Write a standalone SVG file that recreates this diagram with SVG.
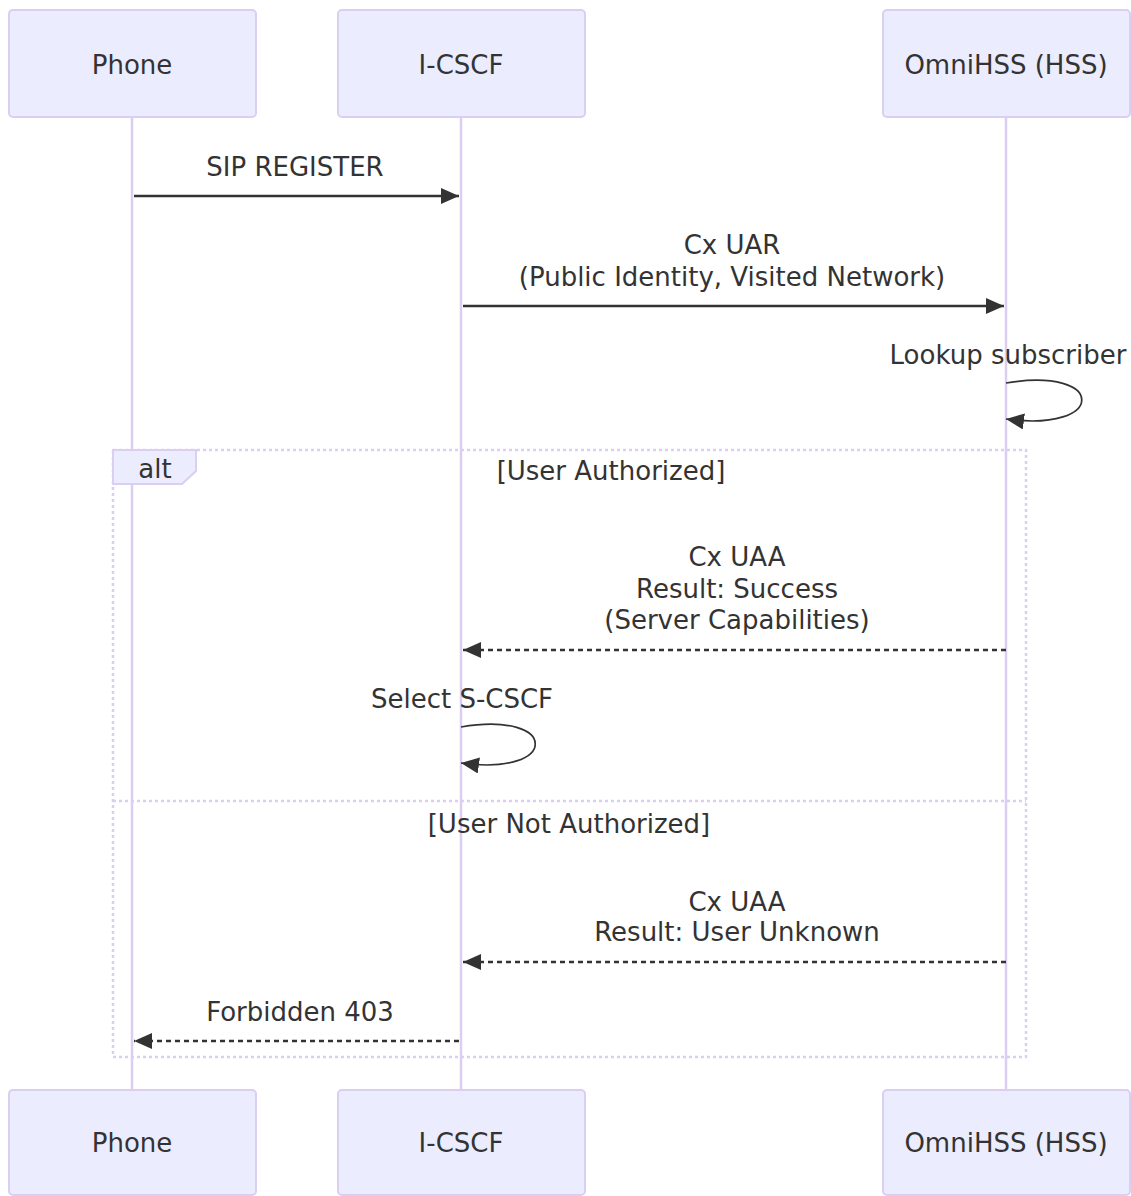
<svg xmlns="http://www.w3.org/2000/svg" width="1131" height="1196" viewBox="0 0 1131 1196">
<style>
.actor{fill:#ECECFF;stroke:#dacef3;stroke-width:2}
.at{font-family:"DejaVu Sans",sans-serif;font-size:26px;fill:#333;text-anchor:middle;dominant-baseline:central}
.life{stroke:#dacef3;stroke-width:2.5}
.msg{stroke:#333;stroke-width:2.6;fill:none}
.self{stroke:#333;stroke-width:1.7;fill:none}
.dash{stroke-dasharray:5,4}
.loop{stroke:#dacef3;stroke-width:2.5;stroke-dasharray:3,3;fill:none}
.lt{font-family:"DejaVu Sans",sans-serif;font-size:26px;fill:#333;text-anchor:middle;dominant-baseline:central}
</style>
<defs>
<marker id="ah" markerUnits="userSpaceOnUse" markerWidth="20" markerHeight="20" refX="18" refY="8" orient="auto">
<path d="M0,0 L18,8 L0,16 z" fill="#333"/>
</marker>
</defs>
<g id="lifelines">
<line class="life" x1="132" y1="117" x2="132" y2="1090"/>
<line class="life" x1="461" y1="117" x2="461" y2="1090"/>
<line class="life" x1="1006" y1="117" x2="1006" y2="1090"/>
</g>
<g id="phone-top"><rect class="actor" x="9" y="10" width="247" height="107" rx="4"/><text class="at" x="132" y="65">Phone</text></g>
<g id="icscf-top"><rect class="actor" x="338" y="10" width="247" height="107" rx="4"/><text class="at" x="461" y="65">I-CSCF</text></g>
<g id="hss-top"><rect class="actor" x="883" y="10" width="247" height="107" rx="4"/><text class="at" x="1006" y="65">OmniHSS (HSS)</text></g>
<g id="phone-bottom"><rect class="actor" x="9" y="1090" width="247" height="105" rx="4"/><text class="at" x="132" y="1143">Phone</text></g>
<g id="icscf-bottom"><rect class="actor" x="338" y="1090" width="247" height="105" rx="4"/><text class="at" x="461" y="1143">I-CSCF</text></g>
<g id="hss-bottom"><rect class="actor" x="883" y="1090" width="247" height="105" rx="4"/><text class="at" x="1006" y="1143">OmniHSS (HSS)</text></g>
<g id="alt-frame">
<rect class="loop" x="113" y="450" width="913" height="607"/>
<line class="loop" x1="113" y1="801" x2="1026" y2="801"/>
<polygon points="113,450 196,450 196,471 182,484 113,484" fill="#ECECFF" stroke="#dacef3" stroke-width="2"/>
<text class="lt" x="155" y="469">alt</text>
<text class="lt" x="611" y="471">[User Authorized]</text>
<text class="lt" x="569" y="824">[User Not Authorized]</text>
</g>
<g id="connectors">
<line class="msg" x1="134" y1="196" x2="459" y2="196" marker-end="url(#ah)"/>
<text class="lt" x="295" y="167">SIP REGISTER</text>
<line class="msg" x1="463" y1="306" x2="1004" y2="306" marker-end="url(#ah)"/>
<text class="lt" x="732" y="245">Cx UAR</text>
<text class="lt" x="732" y="277">(Public Identity, Visited Network)</text>
<path class="self" d="M1006,383 C1107,366 1107,433 1006,419" marker-end="url(#ah)"/>
<text class="lt" x="1008" y="355">Lookup subscriber</text>
<line class="msg dash" x1="1006" y1="650" x2="463" y2="650" marker-end="url(#ah)"/>
<text class="lt" x="737" y="557">Cx UAA</text>
<text class="lt" x="737" y="589">Result: Success</text>
<text class="lt" x="737" y="620">(Server Capabilities)</text>
<path class="self" d="M461,727 C560,710 560,777 461,763" marker-end="url(#ah)"/>
<text class="lt" x="462" y="699">Select S-CSCF</text>
<line class="msg dash" x1="1006" y1="962" x2="463" y2="962" marker-end="url(#ah)"/>
<text class="lt" x="737" y="902">Cx UAA</text>
<text class="lt" x="737" y="932">Result: User Unknown</text>
<line class="msg dash" x1="459" y1="1041" x2="134" y2="1041" marker-end="url(#ah)"/>
<text class="lt" x="300" y="1012">Forbidden 403</text>
</g>
</svg>
